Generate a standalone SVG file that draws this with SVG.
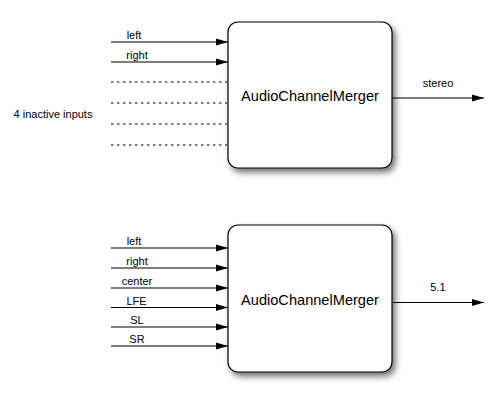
<svg xmlns="http://www.w3.org/2000/svg" width="498" height="402" viewBox="0 0 498 402">
<style>
.lbl{font-family:"Liberation Sans",Arial,sans-serif;font-size:11px;fill:#000;text-anchor:middle}
.title{font-family:"Liberation Sans",Arial,sans-serif;font-size:14.6px;fill:#000;text-anchor:middle}
.box{fill:#fff;stroke:#000;stroke-width:1.2;filter:url(#sh)}
.ln{stroke:#000;stroke-width:1.2;fill:none}
.ar{marker-end:url(#ah)}
.dot{stroke:#000;stroke-width:1.2;stroke-dasharray:2.5 3.5;fill:none}
</style>
<defs>
<filter id="sh" x="-10%" y="-10%" width="130%" height="130%">
<feDropShadow dx="3" dy="4" stdDeviation="3" flood-color="#000" flood-opacity="0.55"/>
</filter>
<marker id="ah" markerWidth="12" markerHeight="8" refX="12" refY="4" orient="auto" markerUnits="userSpaceOnUse">
<path d="M0,0.5 L12,4 L0,7.5 Z" fill="#000"/>
</marker>
</defs>
<rect width="498" height="402" fill="#fff"/>
<g id="merger1">
<rect class="box" x="228" y="22" width="164" height="146" rx="10" ry="10"/>
<text class="title" x="310" y="101">AudioChannelMerger</text>
</g>
<g id="merger2">
<rect class="box" x="228" y="225" width="164" height="147" rx="10" ry="10"/>
<text class="title" x="310" y="305">AudioChannelMerger</text>
</g>
<g id="inactive-label">
<text class="lbl" x="53" y="117.5">4 inactive inputs</text>
</g>
<g id="connectors">
<line class="ln ar" x1="111" y1="42" x2="228" y2="42"/>
<line class="ln ar" x1="111" y1="62" x2="228" y2="62"/>
<line class="dot" x1="111" y1="82" x2="227" y2="82"/>
<line class="dot" x1="111" y1="103" x2="227" y2="103"/>
<line class="dot" x1="111" y1="124" x2="227" y2="124"/>
<line class="dot" x1="111" y1="145" x2="227" y2="145"/>
<line class="ln ar" x1="392" y1="98" x2="484" y2="98"/>
<text class="lbl" x="134" y="39">left</text>
<text class="lbl" x="137" y="59">right</text>
<text class="lbl" x="438" y="87">stereo</text>

<line class="ln ar" x1="111" y1="248" x2="228" y2="248"/>
<line class="ln ar" x1="111" y1="268" x2="228" y2="268"/>
<line class="ln ar" x1="111" y1="288" x2="228" y2="288"/>
<line class="ln ar" x1="111" y1="307.5" x2="228" y2="307.5"/>
<line class="ln ar" x1="111" y1="327" x2="228" y2="327"/>
<line class="ln ar" x1="111" y1="346" x2="228" y2="346"/>
<line class="ln ar" x1="392" y1="302.5" x2="484" y2="302.5"/>
<text class="lbl" x="134" y="245">left</text>
<text class="lbl" x="137" y="265">right</text>
<text class="lbl" x="137" y="285">center</text>
<text class="lbl" x="136.5" y="304.5">LFE</text>
<text class="lbl" x="137" y="324">SL</text>
<text class="lbl" x="137" y="343">SR</text>
<text class="lbl" x="438" y="291">5.1</text>
</g>
</svg>
